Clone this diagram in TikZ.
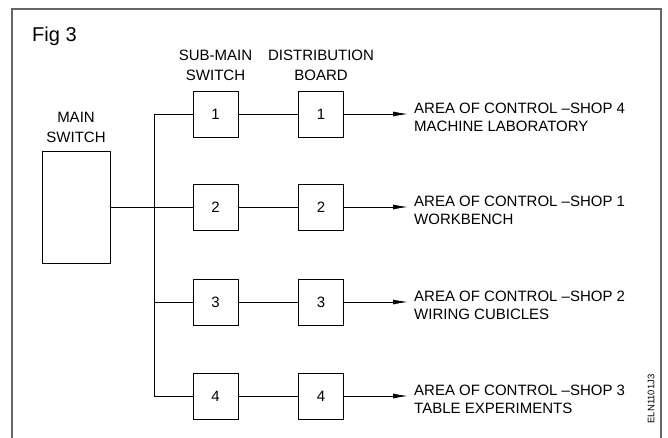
\documentclass[tikz,border=0pt]{standalone}
\usepackage{fontspec}
\setmainfont{Liberation Sans}
\usetikzlibrary{arrows.meta}
\begin{document}
\begin{tikzpicture}[x=1pt,y=-1pt,
  txt/.style={font=\fontsize{15}{20}\selectfont, inner sep=0pt, align=center},
  dest/.style={font=\fontsize{15}{18.3}\selectfont, inner sep=0pt, align=left, anchor=north west},
  boxn/.style={draw, line width=0.9pt, minimum width=45pt, minimum height=46pt, inner sep=0pt, font=\fontsize{15}{18}\selectfont},
  wire/.style={line width=0.9pt},
  arr/.style={wire, -{Latex[length=15pt,width=5pt]}}]
\useasboundingbox (0,0) rectangle (668,438);
% frame
\draw[line width=1.6pt, draw=black!60] (12,438) -- (12,9) -- (661,9) -- (661,438);
% title
\node[font=\fontsize{20}{24}\selectfont, inner sep=0pt, anchor=west] (fig) at (32,36) {Fig 3};
% headers
\node[txt] (hsub) at (215.5,65) {SUB-MAIN\\SWITCH};
\node[txt] (hdb) at (321,65) {DISTRIBUTION\\BOARD};
\node[txt] (hmain) at (76,127.5) {MAIN\\SWITCH};
% main switch
\node[draw, line width=0.9pt, minimum width=68pt, minimum height=112pt, inner sep=0pt] (ms) at (76,207) {};
% bus
\coordinate (bt) at (154,114);
\coordinate (bb) at (154,396);
\coordinate (bm) at (154,207);
\coordinate (b3) at (154,302);
\draw[wire] (bt) -- (bb);
\draw[wire] (ms.east) -- (bm);
% rows
\foreach \n/\y/\a/\b in {1/114/AREA OF CONTROL –SHOP 4/MACHINE LABORATORY,
                        2/207/AREA OF CONTROL –SHOP 1/WORKBENCH,
                        3/302/AREA OF CONTROL –SHOP 2/WIRING CUBICLES,
                        4/396/AREA OF CONTROL –SHOP 3/TABLE EXPERIMENTS}{
  \node[boxn] (s\n) at (215.5,\y) {\n};
  \node[boxn] (d\n) at (321,\y) {\n};
  \coordinate (j\n) at (154,\y);
  \coordinate (t\n) at (408,\y);
  \node[dest] (l\n) at (414,\y-11) {\a\\\b};
  \draw[wire] (j\n) -- (s\n.west);
  \draw[wire] (s\n.east) -- (d\n.west);
  \draw[arr] (d\n.east) -- (t\n);
}
% code
\node[rotate=90, font=\fontsize{9.5}{11}\selectfont, inner sep=0pt] (code) at (651,399) {ELN1101J3};
\end{tikzpicture}
\end{document}
